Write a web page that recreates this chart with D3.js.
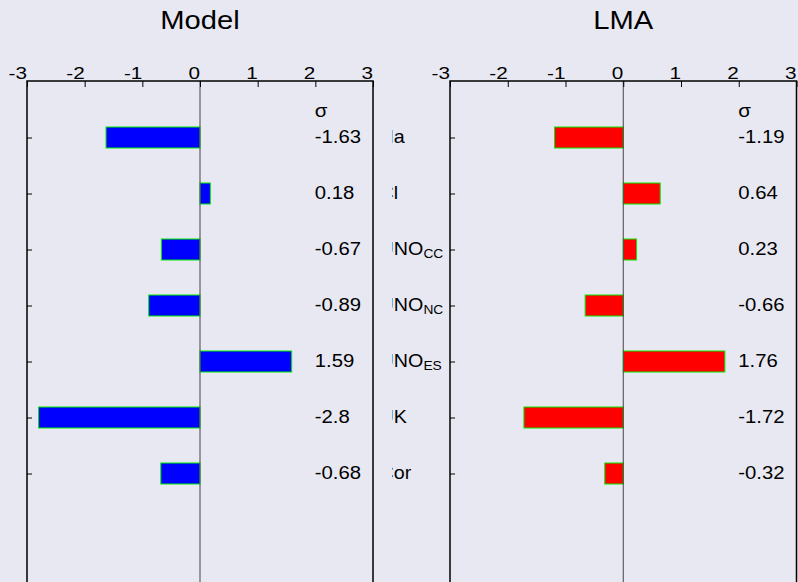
<!DOCTYPE html>
<html><head><meta charset="utf-8">
<script src="https://cdn.jsdelivr.net/npm/d3@7"></script>
<style>
html,body{margin:0;padding:0;background:#e8e8f2;}
svg{display:block;}
text{font-family:"Liberation Sans",Arial,Helvetica,sans-serif;fill:#000;}
</style></head>
<body>
<svg id="chart" width="798" height="582"></svg>
<script>
const categories = ["Na", "Cl", "UNO|CC", "UNO|NC", "UNO|ES", "UK", "Cor"];
const modelValues = [-1.63, 0.18, -0.67, -0.89, 1.59, -2.8, -0.68];
const lmaValues = [-1.19, 0.64, 0.23, -0.66, 1.76, -1.72, -0.32];
const tickValues = [-3, -2, -1, 0, 1, 2, 3];
const panelTitles = ["Model", "LMA"];

(function () {
const svg = d3.select("#chart");
const W = 798, H = 582;
svg.append("rect").attr("width", W).attr("height", H).attr("fill", "#e8e8f2");

const y = d3.scalePoint().domain(categories).range([137.5, 473.5]);
const yTop = 81, yBottom = 600;
const barH = 21;

function stretchedText(sel, x, yy, sx) {
  return sel.attr("x", 0).attr("y", 0)
    .attr("transform", `translate(${x},${yy}) scale(${sx},1)`);
}

const panels = [
  {title: panelTitles[0], values: modelValues, range: [27, 373], fill: "#0000ff"},
  {title: panelTitles[1], values: lmaValues, range: [450, 796.5], fill: "#ff0000"}
];

panels.forEach((p) => {
  const x = d3.scaleLinear().domain([-3, 3]).range(p.range);
  const g = svg.append("g");
  stretchedText(g.append("text"), x(0), 28.5, 1.1).attr("text-anchor", "middle")
    .style("font-size", "26.5px").text(p.title);
  g.selectAll("rect.bar").data(p.values).enter().append("rect")
    .attr("class", "bar")
    .attr("x", d => x(Math.min(0, d)))
    .attr("width", d => Math.abs(x(d) - x(0)))
    .attr("y", (d, i) => y(categories[i]) - barH / 2)
    .attr("height", barH)
    .attr("fill", p.fill).attr("stroke", "#00ee00").attr("stroke-width", 1);
  g.append("line").attr("x1", x(0)).attr("x2", x(0)).attr("y1", yTop).attr("y2", yBottom)
    .attr("stroke", "#444").attr("stroke-width", 1);
  g.append("path")
    .attr("d", `M${p.range[0]},${yBottom}V${yTop}H${p.range[1]}V${yBottom}`)
    .attr("fill", "none").attr("stroke", "#000").attr("stroke-width", 1.5);
  const axis = d3.axisTop(x).tickValues(tickValues).tickSizeInner(-6).tickSizeOuter(0)
    .tickFormat(d3.format("d"));
  const ag = g.append("g").attr("transform", `translate(0,${yTop})`).call(axis);
  ag.select(".domain").remove();
  ag.selectAll(".tick line").attr("stroke", "#000").attr("stroke-width", 1);
  ag.selectAll(".tick text").attr("text-anchor", "end").attr("dy", 0)
    .attr("x", 0).attr("y", 0)
    .attr("transform", "translate(-0.5,-2) scale(1.22,1)")
    .style("font-size", "17px")
    .style("font-family", '"Liberation Sans",Arial,sans-serif').attr("fill", "#000")
    .text(d => d < 0 ? "-" + Math.abs(d) : d);
  const lax = d3.axisLeft(y).tickSizeInner(-5).tickSizeOuter(0).tickFormat("");
  const lg = g.append("g").attr("transform", `translate(${p.range[0]},0)`).call(lax);
  lg.select(".domain").remove();
  lg.selectAll(".tick line").attr("stroke", "#000").attr("stroke-width", 1);
  const vx = x(2) - 0.5;
  stretchedText(g.append("text"), vx, y(categories[0]) - 20.5, 1.08)
    .style("font-size", "19px").text("σ");
  g.selectAll("text.val").data(p.values).enter().append("text")
    .attr("class", "val")
    .each(function (d, i) {
      stretchedText(d3.select(this), vx, y(categories[i]) + 5.5, 1.08);
    })
    .style("font-size", "18.8px")
    .text(d => String(d));
});

svg.append("clipPath").attr("id", "labclip").append("rect")
  .attr("x", 392).attr("y", 0).attr("width", 56).attr("height", H);
const lab = svg.append("g").attr("clip-path", "url(#labclip)");
categories.forEach(c => {
  const parts = c.split("|");
  const t = stretchedText(lab.append("text"), 379.6, y(c) + 5.5, 1.06)
    .style("font-size", "18.6px");
  t.append("tspan").text(parts[0]);
  if (parts[1]) {
    t.append("tspan").attr("dy", 3.4).style("font-size", "13px").text(parts[1]);
  }
});
})();
</script>
</body></html>
